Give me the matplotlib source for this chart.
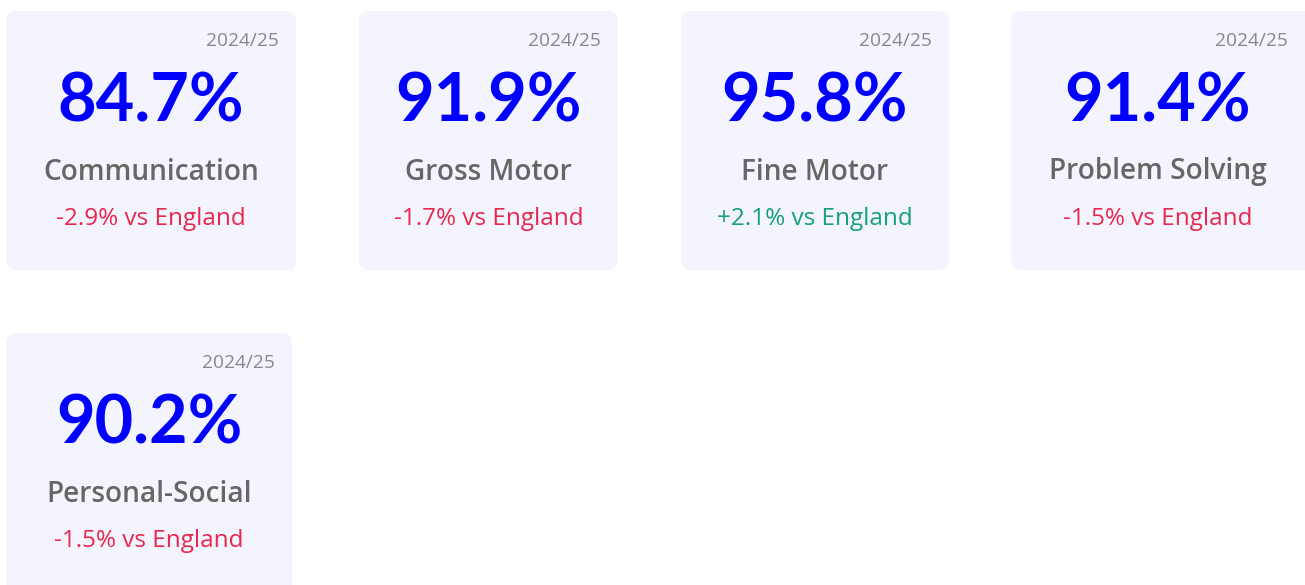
import matplotlib
matplotlib.use("Agg")
import matplotlib.pyplot as plt
from matplotlib.patches import FancyBboxPatch

# data
domains = ["Communication", "Gross Motor", "Fine Motor", "Problem Solving", "Personal-Social"]
values = [84.7, 91.9, 95.8, 91.4, 90.2]
vs_england = [-2.9, -1.7, 2.1, -1.5, -1.5]
period = "2024/25"

# card layout in pixels (left, top, right, bottom)
cards = [(6, 11, 296, 270), (359, 11, 618, 270), (681, 11, 949, 270),
         (1011, 11, 1315, 270), (6, 333, 292, 600)]

BG = "#f4f4fe"
BLUE = "#0000ff"
GREY = "#666666"
RED = "#e8274b"
GREEN = "#14a07a"

plt.rcParams["font.family"] = ["Lato", "DejaVu Sans"]
WIDE = ["Open Sans", "DejaVu Sans"]

fig = plt.figure(figsize=(13.05, 5.85), dpi=100)
ax = fig.add_axes([0, 0, 1, 1])
ax.set_xlim(0, 1305)
ax.set_ylim(585, 0)
ax.axis("off")

for (x0, y0, x1, y1), name, val, diff in zip(cards, domains, values, vs_england):
    box = FancyBboxPatch((x0, y0), x1 - x0, y1 - y0,
                         boxstyle="round,pad=0,rounding_size=10",
                         fc=BG, ec="none")
    ax.add_patch(box)
    # text centre: cards clipped at the edge keep text at the visible middle
    cx = (x0 + min(x1, 1305)) / 2
    ax.text(min(x1, 1305) - 17, y0 + 30, period, ha="right", va="center",
            fontsize=13.8, color="#888888", family=WIDE)
    ax.text(cx, y0 + 92, f"{val:.1f}%", ha="center", va="center",
            fontsize=48, fontweight="bold", color=BLUE)
    ax.text(cx, y0 + 161, name, ha="center", va="center",
            fontsize=20.2, fontweight="semibold", color=GREY, family=WIDE)
    sign = "+" if diff > 0 else ""
    ax.text(cx, y0 + 208, f"{sign}{diff:.1f}% vs England", ha="center",
            va="center", fontsize=17.5, color=GREEN if diff > 0 else RED,
            family=WIDE)

fig.savefig("out.png", dpi=100)
